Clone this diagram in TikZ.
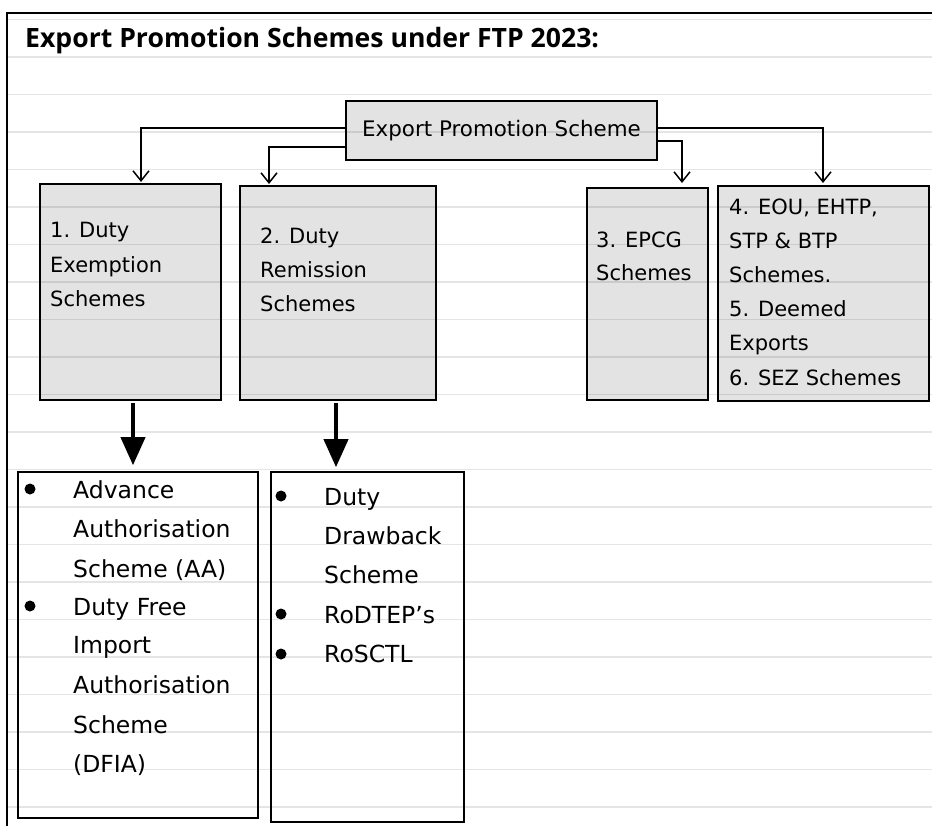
\documentclass[tikz,border=0pt]{standalone}
\usepackage{fontspec}
\setmainfont{DejaVu Sans}
\newfontfamily\titlefont{Open Sans}
\usetikzlibrary{arrows.meta,calc}
\definecolor{boxgray}{RGB}{227,227,227}
\begin{document}
\begin{tikzpicture}[x=1pt,y=-1pt,
  gbox/.style={draw=black,line width=2pt,fill=boxgray,inner sep=0pt},
  wbox/.style={draw=black,line width=1.6pt,inner sep=0pt},
  txt/.style={anchor=base west,inner sep=0pt,font=\fontsize{21}{24}\selectfont},
  ltxt/.style={anchor=base west,inner sep=0pt,font=\fontsize{23.5}{26}\selectfont},
  bul/.style={circle,fill=black,inner sep=0pt,minimum size=11pt},
  conn/.style={line width=1.5pt,-{Straight Barb[length=10pt,width=16pt,line width=1.5pt]}},
  bigarrow/.style={line width=4pt,-{Triangle[length=28pt,width=24pt]}},
  ]
\useasboundingbox (0,0) rectangle (932,826);
\fill[white] (0,0) rectangle (932,826);
% frame
\draw[line width=2.5pt] (7,826) -- (7,13) -- (932,13);
% title
\node[anchor=base west,inner sep=0pt,font=\titlefont\fontsize{26.6}{30}\selectfont\bfseries] (title) at (25,48) {Export Promotion Schemes under FTP 2023:};
% main box
\node[gbox,minimum width=311pt,minimum height=59pt,font=\fontsize{21.4}{24}\selectfont] (main) at (501.5,130.5) {Export Promotion Scheme\hspace{10pt}};
% level boxes
\node[gbox,minimum width=181pt,minimum height=216pt] (b1) at (130.5,292) {};
\node[gbox,minimum width=196pt,minimum height=214pt] (b2) at (338,293) {};
\node[gbox,minimum width=121pt,minimum height=212pt] (b3) at (647.5,294) {};
\node[gbox,minimum width=211pt,minimum height=215pt] (b4) at (823.5,293.5) {};
% lower boxes
\node[wbox,minimum width=240pt,minimum height=346pt] (b5) at (138,645) {};
\node[wbox,minimum width=193pt,minimum height=350pt] (b6) at (367.5,647) {};
% connectors
\draw[conn] ($(main.west)+(0,-2.5)$) -| ($(b1.north)+(10.5,-1)$);
\draw[conn] ($(main.west)+(0,16.5)$) -| ($(b2.north)+(-69,-1)$);
\draw[conn] ($(main.east)+(0,10.5)$) -| ($(b3.north)+(34.5,-4)$);
\draw[conn] ($(main.east)+(0,-2.5)$) -| ($(b4.north)+(-0.5,-2)$);
\draw[bigarrow] ($(b1.south)+(2.5,2)$) -- ($(b5.north)+(-5,-6)$);
\draw[bigarrow] ($(b2.south)+(-2,2)$) -- ($(b6.north)+(-31.5,-4)$);
% box texts
\node[txt] (t11) at (50,238) {1. Duty};
\node[txt] (t12) at (50,273) {Exemption};
\node[txt] (t13) at (50,307) {Schemes};
\node[txt] (t21) at (260,244) {2. Duty};
\node[txt] (t22) at (260,278) {Remission};
\node[txt] (t23) at (260,312) {Schemes};
\node[txt] (t31) at (596,248) {3. EPCG};
\node[txt] (t32) at (596,281) {Schemes};
\node[txt] (t41) at (729,215) {4. EOU, EHTP,};
\node[txt] (t42) at (729,249) {STP \& BTP};
\node[txt] (t43) at (729,283) {Schemes.};
\node[txt] (t44) at (729,317) {5. Deemed};
\node[txt] (t45) at (729,351) {Exports};
\node[txt] (t46) at (729,385) {6. SEZ Schemes};
% list 1
\node[bul] (u51) at (30,489) {};
\node[bul] (u52) at (30,606) {};
\node[ltxt] (t51) at (73,498) {Advance};
\node[ltxt] (t52) at (73,537) {Authorisation};
\node[ltxt] (t53) at (73,577) {Scheme (AA)};
\node[ltxt] (t54) at (73,615) {Duty Free};
\node[ltxt] (t55) at (73,653) {Import};
\node[ltxt] (t56) at (73,693) {Authorisation};
\node[ltxt] (t57) at (73,733) {Scheme};
\node[ltxt] (t58) at (73,772) {(DFIA)};
% list 2
\node[bul] (u61) at (281,496) {};
\node[bul] (u62) at (281,614) {};
\node[bul] (u63) at (281,654) {};
\node[ltxt] (t61) at (324,505) {Duty};
\node[ltxt] (t62) at (324,544) {Drawback};
\node[ltxt] (t63) at (324,583) {Scheme};
\node[ltxt] (t64) at (324,623) {RoDTEP’s};
\node[ltxt] (t65) at (324,662) {RoSCTL};
% ruled lines
\foreach \k in {0,...,21}{
  \draw[black,draw opacity=0.1,line width=1.5pt] (8,19.5+37.5*\k) -- (932,19.5+37.5*\k);
}
\end{tikzpicture}
\end{document}
